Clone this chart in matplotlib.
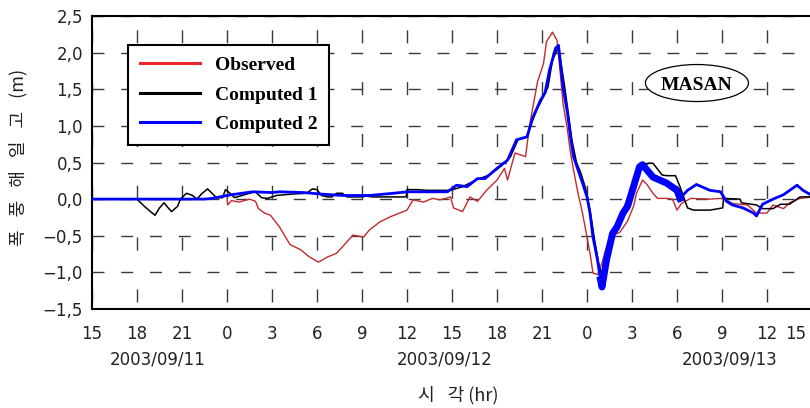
import matplotlib
matplotlib.use('Agg')
import matplotlib.pyplot as plt
import matplotlib.transforms as mtransforms
from matplotlib.lines import Line2D
from matplotlib.patches import Ellipse
import numpy as np

plt.rcParams['lines.scale_dashes'] = False

# time axis: hours counted from 2003/09/11 00:00
obs_t = [24.0, 24.05, 24.3, 24.8, 25.5, 25.9, 26.1, 26.5, 26.9, 27.5, 28.2, 28.9,
         29.5, 30.1, 30.7, 31.3, 31.7, 32.4, 33.1, 33.5, 34.2, 34.9, 35.5, 36.0,
         36.4, 37.1, 37.7, 38.2, 38.9, 39.1, 39.7, 40.2, 40.7, 41.3, 42.0, 42.5,
         42.7, 43.2, 43.9, 44.2, 44.7, 45.1, 45.3, 45.7, 46.0, 46.2, 46.4, 46.7,
         46.9, 47.1, 47.4, 47.7, 48.0, 48.2, 48.4, 48.7, 49.0, 49.3, 49.7, 50.2,
         50.7, 51.1, 51.3, 51.7, 52.0, 52.4, 52.7, 53.3, 53.7, 54.0, 54.3, 54.9,
         56.2, 56.9, 57.3, 57.7, 58.7, 59.3, 60.0, 60.4, 61.1, 61.5, 62.2, 63.0]
obs_v = [0.0, -0.08, -0.02, -0.04, 0.0, -0.03, -0.13, -0.19, -0.22, -0.38, -0.62, -0.69,
         -0.79, -0.86, -0.79, -0.74, -0.65, -0.49, -0.52, -0.42, -0.31, -0.24, -0.19, -0.15,
         -0.01, -0.04, 0.01, -0.01, 0.03, -0.12, -0.17, 0.03, -0.03, 0.12, 0.26, 0.42,
         0.26, 0.63, 0.58, 1.04, 1.6, 1.85, 2.15, 2.28, 2.17, 1.76, 1.31, 0.94,
         0.63, 0.4, 0.08, -0.19, -0.52, -0.74, -1.01, -1.03, -0.87, -0.65, -0.5, -0.45,
         -0.3, -0.1, 0.08, 0.26, 0.2, 0.08, 0.01, 0.01, 0.0, -0.15, -0.06, 0.01,
         0.0, 0.01, -0.01, -0.06, -0.08, -0.19, -0.19, -0.08, -0.13, -0.05, 0.01, 0.03]

comp1_t = [15.0, 17.6, 18.0, 18.5, 18.9, 19.2, 19.5, 19.8, 20.0, 20.3, 20.7, 20.9,
           21.3, 21.7, 22.0, 22.3, 22.7, 23.0, 23.3, 23.7, 23.9, 24.2, 24.5, 25.0,
           25.5, 25.9, 26.3, 26.7, 27.3, 28.4, 29.3, 29.7, 30.0, 30.3, 30.7, 31.0,
           31.3, 31.7, 32.0, 32.9, 33.3, 33.7, 35.3, 35.95, 36.0, 36.7, 37.3, 38.2,
           38.9, 39.7, 40.7, 41.5, 42.2, 42.9, 43.4, 44.0, 44.2, 44.7, 45.1, 45.4,
           45.7, 46.1, 46.5, 46.8, 47.0, 47.3, 47.6, 47.9, 48.2, 48.5, 48.8, 49.0,
           49.3, 49.7, 50.2, 50.7, 51.2, 51.7, 52.1, 52.4, 53.0, 53.3, 53.9, 54.2,
           54.7, 55.1, 56.2, 57.05, 57.1, 58.2, 58.3, 59.3, 59.7, 60.4, 60.9, 61.5,
           62.2, 63.0]
comp1_v = [0.0, 0.0, 0.0, -0.1, -0.17, -0.22, -0.12, -0.05, -0.1, -0.17, -0.1, 0.0,
           0.08, 0.05, 0.0, 0.07, 0.14, 0.08, 0.02, 0.02, 0.13, 0.08, 0.02, 0.05,
           0.08, 0.1, 0.02, 0.01, 0.05, 0.07, 0.08, 0.14, 0.13, 0.05, 0.03, 0.03,
           0.08, 0.08, 0.03, 0.03, 0.04, 0.03, 0.03, 0.03, 0.13, 0.13, 0.12, 0.12,
           0.12, 0.17, 0.27, 0.33, 0.44, 0.58, 0.81, 0.85, 0.99, 1.24, 1.4, 1.53,
           1.9, 2.08, 1.55, 1.1, 0.8, 0.5, 0.35, 0.15, -0.15, -0.55, -0.9, -1.05,
           -0.85, -0.5, -0.25, 0.0, 0.25, 0.45, 0.49, 0.49, 0.33, 0.32, 0.32, 0.17,
           -0.12, -0.15, -0.15, -0.12, 0.01, 0.0, -0.05, -0.08, -0.13, -0.13, -0.07, -0.07,
           0.03, 0.03]

comp2_t = [15.0, 22.5, 23.0, 23.5, 24.3, 25.0, 25.7, 27.0, 27.5, 29.1, 30.2, 31.7,
           33.5, 35.1, 36.0, 37.5, 38.7, 39.3, 40.0, 40.7, 41.2, 42.0, 42.7, 43.3,
           44.0, 44.4, 44.9, 45.2, 45.5, 45.9, 46.1, 46.4, 46.7, 46.9, 47.1, 47.4,
           47.7, 48.0, 48.2, 48.4, 48.7, 48.9, 49.0, 49.3, 49.7, 50.0, 50.4, 50.7,
           51.1, 51.5, 51.7, 52.4, 53.3, 54.0, 54.2, 54.7, 55.3, 56.2, 56.9, 57.3,
           57.7, 58.4, 59.1, 59.3, 59.7, 60.4, 61.1, 62.0, 62.4, 63.0]
comp2_v = [0.0, 0.0, 0.01, 0.03, 0.06, 0.08, 0.1, 0.09, 0.1, 0.09, 0.07, 0.05,
           0.05, 0.08, 0.1, 0.1, 0.1, 0.19, 0.17, 0.28, 0.28, 0.42, 0.53, 0.81,
           0.85, 1.12, 1.35, 1.45, 1.76, 2.06, 2.1, 1.53, 1.17, 0.85, 0.58, 0.4,
           0.22, 0.03, -0.19, -0.52, -0.83, -1.1, -1.2, -0.83, -0.47, -0.38, -0.19, -0.1,
           0.17, 0.44, 0.47, 0.3, 0.22, 0.12, 0.01, 0.12, 0.2, 0.12, 0.1, -0.03,
           -0.08, -0.12, -0.19, -0.23, -0.07, 0.0, 0.06, 0.19, 0.12, 0.05]

x_ticks = list(range(15, 64, 3))
x_ticklabels = ['15', '18', '21', '0', '3', '6', '9', '12', '15', '18', '21',
                '0', '3', '6', '9', '12', '15']
y_ticks = [-1.5, -1.0, -0.5, 0.0, 0.5, 1.0, 1.5, 2.0, 2.5]
y_ticklabels = ['\u22121,5', '\u22121,0', '\u22120,5', '0,0', '0,5', '1,0', '1,5', '2,0', '2,5']
dates = ['2003/09/11', '2003/09/12', '2003/09/13']
date_hours = [19.4, 38.5, 57.5]
series_names = ['Observed', 'Computed 1', 'Computed 2']
station = 'MASAN'

kr = ['Noto Sans CJK KR', 'DejaVu Sans']
serif_bold = {'family': 'Liberation Serif', 'weight': 'bold', 'size': 14}

fig = plt.figure(figsize=(8.1, 4.08), dpi=100)
ax = fig.add_axes([92 / 810, 99 / 408, 720 / 810, 293 / 408])
ax.set_xlim(15, 63)
ax.set_ylim(-1.5, 2.5)

ax.plot(obs_t, obs_v, color='#c22a2e', lw=1.0, zorder=3)
ax.plot(comp1_t, comp1_v, color='black', lw=1.1, zorder=4)
ax.plot(comp2_t, comp2_v, color='#0000ff', lw=2.0, zorder=5)
# noisy stretch of Computed 2 after the trough -> drawn as a thicker band
t2 = np.array(comp2_t)
v2 = np.array(comp2_v)
m = (t2 >= 48.9) & (t2 <= 54.2)
ax.plot(t2[m], v2[m], color='#0000ff', lw=5.0, zorder=5)

ax.set_xticks(x_ticks)
ax.set_xticklabels(x_ticklabels)
ax.set_yticks(y_ticks)
ax.set_yticklabels(y_ticklabels)
ax.tick_params(length=0, labelsize=12, colors='#222222')
ax.tick_params(axis='y', pad=6.5)
ax.tick_params(axis='x', pad=11.5)
lab = ax.get_xticklabels()[-1]
lab.set_horizontalalignment('right')
lab.set_transform(lab.get_transform() +
                  mtransforms.ScaledTranslation(-4 / 72, 0, fig.dpi_scale_trans))

ax.xaxis.grid(True, color='#3a3a3a', lw=1.0, linestyle=(32.2, (9.4, 27.9)))
ax.yaxis.grid(True, color='#3a3a3a', lw=1.0, linestyle=(0, (8.6, 12.1)))
for s in ax.spines.values():
    s.set_linewidth(1.5)
    s.set_color('black')

trans = mtransforms.blended_transform_factory(ax.transData, ax.transAxes)
for d, h in zip(dates, date_hours):
    ax.text(h, -0.174, d, transform=trans, ha='center', va='center',
            fontsize=12, color='#222222')

gap = '\u2002 '
fig.text(458 / 810, 1 - 395 / 408, '시' + gap + '각 (hr)', family=kr, fontsize=13,
         ha='center', va='center', color='#222222')
fig.text(18 / 810, 1 - 157 / 408, gap.join(['폭', '풍', '해', '일', '고', '(m)']),
         family=kr, fontsize=13, rotation=90, ha='center', va='center', color='#222222')

handles = [Line2D([], [], color=c, lw=2.2) for c in ['#e8262b', 'black', '#0000ff']]
leg = ax.legend(handles, series_names, loc='upper left',
                bbox_to_anchor=((128 - 92) / 720, (309 - 45) / 293), borderaxespad=0,
                prop=serif_bold, frameon=True, fancybox=False, edgecolor='black',
                framealpha=1, borderpad=0.6, handlelength=3.1, handletextpad=0.75,
                labelspacing=0.6)
leg.get_frame().set_linewidth(1.5)
leg.set_zorder(10)

ax.add_patch(Ellipse((55.33, 1.585), 6.87, 0.505, facecolor='white',
                     edgecolor='black', lw=0.9, zorder=6))
ax.text(55.33, 1.585, station, ha='center', va='center_baseline', zorder=7, **{
    'fontfamily': 'Liberation Serif', 'fontweight': 'bold', 'fontsize': 14})

fig.savefig('out.png', dpi=100)
